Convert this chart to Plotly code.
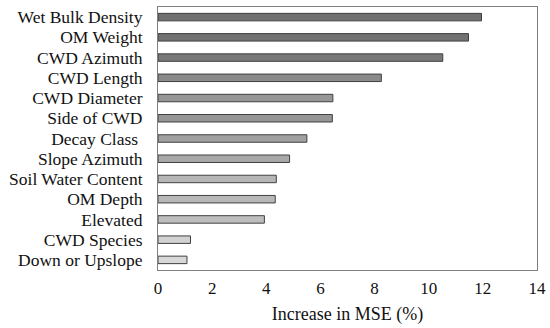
import plotly.graph_objects as go

variables = ["Wet Bulk Density", "OM Weight", "CWD Azimuth", "CWD Length", "CWD Diameter",
             "Side of CWD", "Decay Class ", "Slope Azimuth", "Soil Water Content", "OM Depth",
             "Elevated", "CWD Species", "Down or Upslope"]
mse_increase = [11.95, 11.47, 10.52, 8.25, 6.46, 6.44, 5.5, 4.86, 4.37, 4.33, 3.93, 1.2, 1.07]
x_ticks = [0, 2, 4, 6, 8, 10, 12, 14]

grays = [0x70, 0x72, 0x78, 0x8a, 0x96, 0x96, 0xa0, 0xa8, 0xb6, 0xb8, 0xbe, 0xd2, 0xd8]
bar_colors = ["#%02x%02x%02x" % (g, g, g) for g in grays]

fig = go.Figure(go.Bar(
    x=mse_increase, y=variables, orientation="h",
    marker=dict(color=bar_colors, line=dict(color="#404040", width=1)),
    hoverinfo="skip",
))

font_family = "Liberation Serif"
fig.update_layout(
    width=550, height=328,
    margin=dict(l=158, r=13, t=7, b=58),
    plot_bgcolor="white", paper_bgcolor="white",
    bargap=0.63, showlegend=False,
    font=dict(family=font_family, size=17.5, color="#111111"),
    xaxis=dict(range=[0, 14], tickvals=x_ticks, showgrid=False, zeroline=False,
               showline=True, linecolor="#808080", linewidth=1, mirror=True,
               ticks="", tickfont=dict(size=17), automargin=False, ticklabelstandoff=3,
               title=dict(text="Increase in MSE (%)", font=dict(size=18), standoff=9)),
    yaxis=dict(autorange="reversed", showgrid=False, zeroline=False, automargin=False,
               tickmode="array", tickvals=variables, ticktext=variables,
               showline=True, linecolor="#808080", linewidth=1, mirror=True,
               ticks="", ticklabelstandoff=11, tickfont=dict(size=17.5)),
)
# remove the browser's default 8px body margin so the 550x328 figure fills the window
fig.write_html("out.html", config={"displayModeBar": False},
               post_script="document.body.style.margin='0';document.body.style.overflow='hidden';")
